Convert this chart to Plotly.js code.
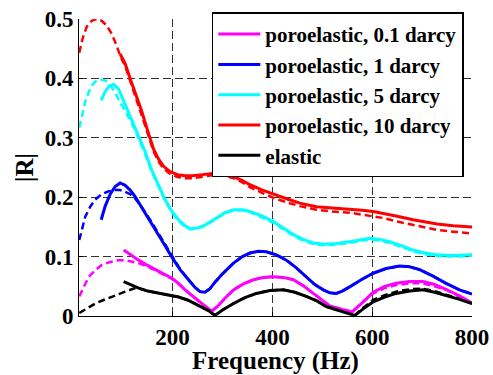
<!DOCTYPE html>
<html>
<head>
<meta charset="utf-8">
<script src="https://cdn.plot.ly/plotly-3.0.1.min.js"></script>
<style>
html,body{margin:0;padding:0;background:#fff;}
#chart{width:493px;height:375px;}
#chart text{font-family:"Liberation Serif", "Times New Roman", serif !important; font-weight:bold !important;}
</style>
</head>
<body>
<div id="chart"></div>
<script>
// ---- data ----
var seriesNames = ["poroelastic, 0.1 darcy", "poroelastic, 1 darcy", "poroelastic, 5 darcy", "poroelastic, 10 darcy", "elastic"];
var seriesColors = ["#ff00ff", "#0000ff", "#00ffff", "#ff0000", "#000000"];
var xTicks = [200, 400, 600, 800];
var yTicks = [0, 0.1, 0.2, 0.3, 0.4, 0.5];
var yTickText = ["0", "0.1", "0.2", "0.3", "0.4", "0.5"];

// 0.1 darcy
var f01Solid = [102,115,132,148,165,182,198,212,225,242,258,270,278,290,305,322,342,362,382,402,422,442,462,482,500,515,540,560,580,602,625,648,675,702,725,748,775,800];
var r01Solid = [0.111,0.103,0.094,0.086,0.078,0.071,0.064,0.055,0.044,0.032,0.021,0.013,0.008,0.016,0.030,0.044,0.054,0.061,0.065,0.066,0.065,0.061,0.051,0.038,0.027,0.017,0.011,0.007,0.022,0.040,0.050,0.055,0.058,0.058,0.053,0.045,0.034,0.022];
var f01Dash = [13,22,32,45,58,75,92,105,118,132,148,165,182,198,212,225,242,258,270,278,290,305,322,342,362,382,402,422,442,462,482,500,515,540,560,580,602,625,648,675,702,725,748,775,800];
var r01Dash = [0.033,0.050,0.066,0.077,0.086,0.091,0.094,0.094,0.092,0.089,0.084,0.077,0.070,0.063,0.054,0.044,0.032,0.021,0.013,0.008,0.016,0.030,0.044,0.054,0.061,0.065,0.066,0.065,0.061,0.051,0.038,0.027,0.017,0.011,0.007,0.023,0.038,0.047,0.052,0.055,0.055,0.050,0.044,0.033,0.021];

// 1 darcy
var f1Solid = [57,65,75,85,95,105,115,125,140,158,178,198,215,232,245,255,265,275,285,300,322,340,355,372,388,408,428,448,468,485,502,515,528,540,555,578,602,628,655,675,695,720,748,775,800];
var r1Solid = [0.162,0.185,0.205,0.218,0.224,0.220,0.212,0.201,0.180,0.156,0.128,0.100,0.078,0.061,0.048,0.041,0.040,0.046,0.057,0.071,0.089,0.100,0.106,0.109,0.108,0.103,0.094,0.081,0.066,0.053,0.044,0.039,0.038,0.042,0.049,0.061,0.072,0.080,0.084,0.083,0.078,0.068,0.055,0.044,0.037];
var f1Dash = [13,20,25,35,45,58,72,85,95,105,115,125,140,158,178,198,215,232,245,255,265,275,285,300,322,340,355,372,388,408,428,448,468,485,502,515,528,540,555,578,602,628,655,675,695,720,748,775,800];
var r1Dash = [0.128,0.150,0.167,0.184,0.196,0.205,0.210,0.212,0.212,0.209,0.205,0.198,0.181,0.158,0.130,0.102,0.079,0.061,0.048,0.041,0.040,0.046,0.057,0.071,0.089,0.100,0.106,0.109,0.108,0.103,0.094,0.081,0.066,0.053,0.044,0.039,0.038,0.042,0.049,0.061,0.072,0.080,0.084,0.083,0.078,0.068,0.055,0.044,0.037];

// 5 darcy
var f5Solid = [57,65,73,82,92,105,115,125,135,145,158,172,185,198,212,225,235,250,265,288,305,322,340,355,380,402,420,442,462,482,505,528,555,575,595,615,635,660,682,705,729,760,800];
var r5Solid = [0.363,0.378,0.387,0.390,0.382,0.356,0.337,0.317,0.297,0.277,0.246,0.220,0.196,0.177,0.162,0.152,0.147,0.148,0.153,0.165,0.174,0.179,0.179,0.176,0.168,0.159,0.149,0.137,0.129,0.123,0.121,0.122,0.125,0.128,0.131,0.129,0.125,0.118,0.111,0.106,0.103,0.102,0.103];
var f5Dash = [13,20,25,32,38,46,55,64,72,82,92,105,115,125,135,145,158,172,185,198,212,225,235,250,265,288,305,322,340,355,380,402,420,442,462,482,505,528,555,575,595,615,635,660,682,705,729,760,800];
var r5Dash = [0.317,0.343,0.361,0.377,0.388,0.395,0.398,0.397,0.392,0.380,0.365,0.345,0.330,0.312,0.293,0.273,0.243,0.217,0.194,0.175,0.160,0.150,0.146,0.147,0.152,0.164,0.173,0.178,0.178,0.175,0.166,0.157,0.147,0.135,0.127,0.121,0.119,0.120,0.123,0.126,0.129,0.127,0.123,0.116,0.109,0.104,0.101,0.100,0.101];

// 10 darcy
var f10Solid = [95,105,115,127,138,150,162,172,182,195,210,225,240,260,280,300,322,340,355,380,402,430,455,488,520,555,580,602,622,650,682,702,730,762,800];
var r10Solid = [0.441,0.425,0.400,0.372,0.345,0.312,0.281,0.264,0.252,0.243,0.238,0.236,0.236,0.238,0.240,0.240,0.235,0.228,0.221,0.212,0.205,0.197,0.190,0.184,0.182,0.180,0.178,0.176,0.173,0.168,0.162,0.159,0.155,0.152,0.150];
var f10Dash = [13,20,28,38,48,58,68,78,88,95,105,115,127,138,150,162,172,182,195,210,225,240,260,280,300,322,340,355,380,402,430,455,488,520,555,580,602,622,650,682,702,730,762,800];
var r10Dash = [0.443,0.468,0.487,0.497,0.500,0.497,0.489,0.475,0.455,0.438,0.421,0.396,0.368,0.341,0.308,0.277,0.260,0.248,0.239,0.234,0.232,0.232,0.234,0.237,0.237,0.232,0.225,0.217,0.207,0.199,0.191,0.185,0.179,0.176,0.174,0.171,0.168,0.165,0.159,0.153,0.149,0.145,0.142,0.139];

// elastic
var fElSolid = [102,115,132,150,172,192,212,230,245,260,272,285,300,322,345,368,395,422,445,468,490,508,530,550,565,582,602,625,648,675,702,725,748,775,800];
var rElSolid = [0.058,0.053,0.047,0.042,0.038,0.035,0.032,0.027,0.021,0.015,0.009,0.001,0.010,0.021,0.031,0.038,0.043,0.044,0.040,0.033,0.025,0.016,0.010,0.005,0.001,0.012,0.024,0.032,0.038,0.042,0.044,0.040,0.035,0.028,0.021];
var fElDash = [13,30,45,65,85,105,125,140,150,172,192,212,230,245,260,272,285,300,322,345,368,395,422,445,468,490,508,530,550,565,582,602,625,648,675,702,725,748,775,800];
var rElDash = [0.005,0.013,0.021,0.028,0.035,0.041,0.047,0.045,0.042,0.038,0.035,0.032,0.027,0.021,0.015,0.009,0.001,0.010,0.021,0.031,0.038,0.043,0.044,0.040,0.033,0.025,0.016,0.010,0.005,0.001,0.014,0.027,0.035,0.041,0.045,0.046,0.042,0.036,0.029,0.021];

var solids = [[f01Solid, r01Solid], [f1Solid, r1Solid], [f5Solid, r5Solid], [f10Solid, r10Solid], [fElSolid, rElSolid]];
var dashes = [[f01Dash, r01Dash], [f1Dash, r1Dash], [f5Dash, r5Dash], [f10Dash, r10Dash], [fElDash, rElDash]];

var traces = [];
for (var i = 0; i < dashes.length; i++) {
  traces.push({
    x: dashes[i][0], y: dashes[i][1], type: 'scatter', mode: 'lines',
    line: {color: seriesColors[i], width: 2.5, dash: '7px,4px'},
    showlegend: false, hoverinfo: 'skip'
  });
}
for (var j = 0; j < solids.length; j++) {
  traces.push({
    x: solids[j][0], y: solids[j][1], type: 'scatter', mode: 'lines',
    name: seriesNames[j],
    line: {color: seriesColors[j], width: 3}
  });
}

function mk(sz) { return {family: 'Liberation Serif', size: sz, color: '#000', weight: 'bold'}; }

var layout = {
  width: 493, height: 375,
  margin: {l: 79, r: 21, t: 19, b: 59},
  paper_bgcolor: '#fff', plot_bgcolor: '#fff',
  font: mk(22),
  showlegend: true,
  xaxis: {
    range: [12.5, 800], tickvals: xTicks, ticktext: xTicks.map(String),
    showline: true, linecolor: '#000', linewidth: 1,
    showgrid: true, gridcolor: '#333', gridwidth: 1, griddash: '8px,4px',
    zeroline: false, ticks: 'inside', ticklen: 4, tickcolor: '#000',
    tickfont: mk(23),
    title: {text: 'Frequency (Hz)', font: mk(25), standoff: 10}
  },
  yaxis: {
    range: [0, 0.5], tickvals: yTicks, ticktext: yTickText,
    showline: true, linecolor: '#000', linewidth: 1,
    showgrid: true, gridcolor: '#333', gridwidth: 1, griddash: '8px,4px',
    zeroline: false, ticks: 'inside', ticklen: 4, tickcolor: '#000',
    tickfont: mk(23),
    title: {text: '|R|', font: mk(25), standoff: 3}
  },
  legend: {
    x: 0.338, y: 1.022, xanchor: 'left', yanchor: 'top',
    bgcolor: '#fff', bordercolor: '#000', borderwidth: 1.5,
    font: mk(21), tracegroupgap: 0, itemwidth: 42
  }
};

Plotly.newPlot('chart', traces, layout, {staticPlot: true, displayModeBar: false});
</script>
</body>
</html>
